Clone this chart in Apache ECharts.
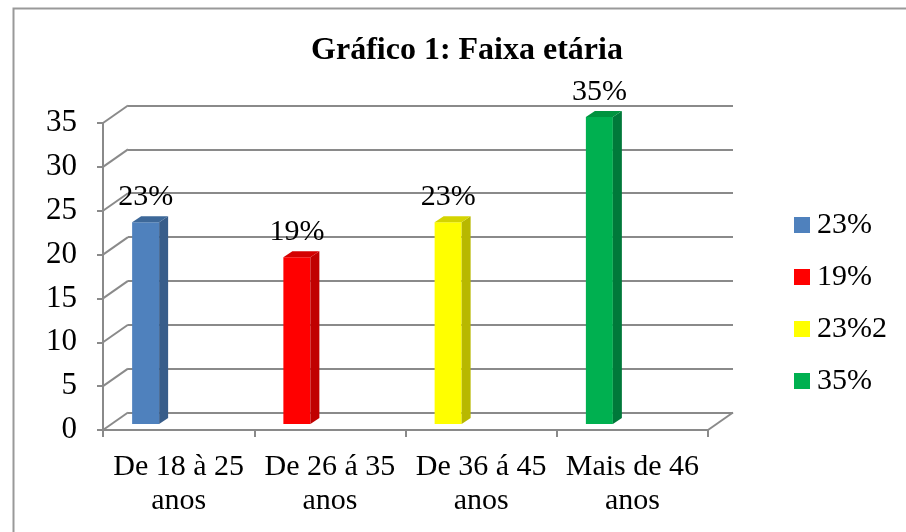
<!DOCTYPE html>
<html>
<head>
<meta charset="utf-8">
<script src="https://cdn.jsdelivr.net/npm/echarts@6/dist/echarts.min.js"></script>
<style>
  html, body { margin: 0; padding: 0; background: #fff; }
  #chart { width: 906px; height: 532px; }
</style>
</head>
<body>
<div id="chart"></div>
<script>
  // data
  var categories = ['De 18 à 25\nanos', 'De 26 á 35\nanos', 'De 36 á 45\nanos', 'Mais de 46\nanos']
  var seriesNames = ['23%', '19%', '23%2', '35%']
  var values = [23, 19, 23, 35]
  var barLabels = ['23%', '19%', '23%', '35%']
  var yTicks = [0, 5, 10, 15, 20, 25, 30, 35]

  // bar face colours: front, side, top
  var frontColors = ['#4F81BD', '#FF0000', '#FFFF00', '#00B050']
  var sideColors = ['#385D8A', '#C00000', '#B8B800', '#00793A']
  var topColors = ['#3D6899', '#D40000', '#D4D400', '#00933F']

  var FONT = "'Liberation Serif', 'Times New Roman', serif"
  var DEPTH_X = 25, DEPTH_Y = -17.5   // wall depth of the 3d box
  var GRID_COLOR = '#8A8A8A'

  var chart = echarts.init(document.getElementById('chart'))

  function barItem(idx) {
    return function (params, api) {
      var i = api.value(0)
      var base = api.coord([i, 0])
      var top = api.coord([i, api.value(1)])
      var left = base[0] - 46.5, w = 27
      var sx = 9, sy = -6   // bar depth
      var by = base[1] - 6, ty = top[1] - 6
      return {
        type: 'group',
        children: [
          { type: 'rect', shape: { x: left, y: ty, width: w, height: by - ty },
            style: { fill: frontColors[idx] } },
          { type: 'polygon', shape: { points: [[left + w, ty], [left + w + sx, ty + sy], [left + w + sx, by + sy], [left + w, by]] },
            style: { fill: sideColors[idx] } },
          { type: 'polygon', shape: { points: [[left, ty], [left + sx, ty + sy], [left + w + sx, ty + sy], [left + w, ty]] },
            style: { fill: topColors[idx] } },
          { type: 'text', style: { x: left + w / 2, y: ty + sy - 19, text: barLabels[idx],
              font: '30px ' + FONT, fill: '#000', align: 'center', verticalAlign: 'middle' } }
        ]
      }
    }
  }

  var series = seriesNames.map(function (name, idx) {
    return {
      name: name,
      type: 'custom',
      xAxisIndex: 1,
      yAxisIndex: 1,
      itemStyle: { color: frontColors[idx] },
      renderItem: barItem(idx),
      data: [[idx, values[idx]]],
      z: 5
    }
  })

  // left wall diagonals and right floor edge
  series.push({
    type: 'custom',
    xAxisIndex: 1,
    yAxisIndex: 1,
    silent: true,
    renderItem: function (params, api) {
      var v = api.value(0)
      var y = api.coord([0, v])[1]
      var x0 = params.coordSys.x
      var children = [{ type: 'line', shape: { x1: x0, y1: y, x2: x0 + DEPTH_X, y2: y + DEPTH_Y },
        style: { stroke: GRID_COLOR, lineWidth: 2 } }]
      if (v === 0) {
        var x1 = params.coordSys.x + params.coordSys.width
        children.push({ type: 'line', shape: { x1: x1, y1: y, x2: x1 + DEPTH_X, y2: y + DEPTH_Y },
          style: { stroke: GRID_COLOR, lineWidth: 2 } })
      }
      return { type: 'group', children: children }
    },
    data: yTicks.map(function (t) { return [t] }),
    z: 2
  })

  chart.setOption({
    backgroundColor: '#fff',
    animation: false,
    title: {
      text: 'Gráfico 1: Faixa etária',
      left: 462,
      top: 30,
      textAlign: 'center',
      textStyle: { fontFamily: FONT, fontSize: 32, fontWeight: 'bold', color: '#000' }
    },
    graphic: [{
      type: 'rect',
      left: 11, top: 6,
      shape: { width: 1000, height: 1000 },
      style: { fill: null, stroke: '#999', lineWidth: 2 }
    }],
    legend: {
      orient: 'vertical',
      left: 789,
      top: 205,
      itemWidth: 16,
      itemHeight: 16,
      itemGap: 22,
      icon: 'rect',
      data: seriesNames,
      textStyle: { fontFamily: FONT, fontSize: 30, color: '#000', padding: [0, 0, 0, 2] }
    },
    grid: [
      // back wall
      { left: 128, right: 173, top: 105.5, bottom: 119.5 },
      // front plane
      { left: 103, right: 198, top: 123, bottom: 102 }
    ],
    xAxis: [
      { gridIndex: 0, type: 'category', data: categories, show: false },
      {
        gridIndex: 1, type: 'category', data: categories,
        axisLine: { show: true, lineStyle: { color: GRID_COLOR, width: 2 } },
        axisTick: { show: true, interval: 0, length: 7, lineStyle: { color: GRID_COLOR, width: 2 } },
        axisLabel: { interval: 0, color: '#000', fontFamily: FONT, fontSize: 30, lineHeight: 34, margin: 20 },
        splitLine: { show: false }
      }
    ],
    yAxis: [
      {
        gridIndex: 0, type: 'value', min: 0, max: 35, interval: 5,
        axisLine: { show: false }, axisTick: { show: false }, axisLabel: { show: false },
        splitLine: { show: true, lineStyle: { color: GRID_COLOR, width: 2 } }
      },
      {
        gridIndex: 1, type: 'value', min: 0, max: 35, interval: 5,
        axisLine: { show: true, lineStyle: { color: GRID_COLOR, width: 2 } },
        axisTick: { show: true, length: 6, lineStyle: { color: GRID_COLOR, width: 2 } },
        axisLabel: { color: '#000', fontFamily: FONT, fontSize: 31, margin: 26 },
        splitLine: { show: false }
      }
    ],
    series: series
  })
</script>
</body>
</html>
